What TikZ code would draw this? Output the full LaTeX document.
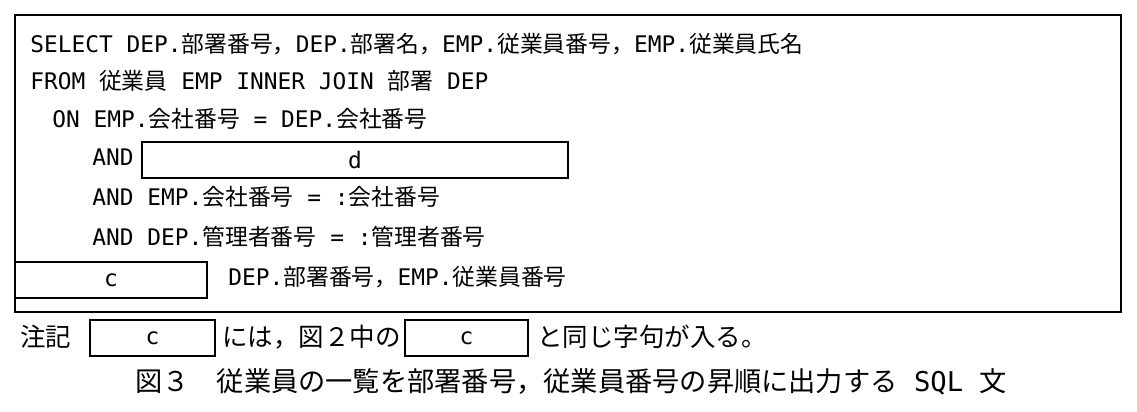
\documentclass[tikz,border=0pt]{standalone}
\usepackage{fontspec}
\setmainfont{DejaVu Sans Mono}
\newfontfamily\cjk{Noto Sans CJK JP}
\newcommand{\jp}[1]{{\cjk #1}}
\begin{document}
\begin{tikzpicture}[x=0.02cm,y=-0.02cm,
  code/.style={anchor=base west,inner sep=0pt,font=\fontsize{13}{15}\selectfont},
  note/.style={anchor=base west,inner sep=0pt,font=\fontsize{14.5}{16}\selectfont},
  blank/.style={draw,line width=1.3pt},
  lbl/.style={font=\fontsize{13}{15}\selectfont}]
\useasboundingbox (0,0) rectangle (1137,412);

\draw[line width=0.9pt] (15,15) rectangle (1121,312);

\node[code] (l1) at (30,53) {SELECT DEP.\jp{部署番号，}DEP.\jp{部署名，}EMP.\jp{従業員番号，}EMP.\jp{従業員氏名}};
\node[code] (l2) at (30,90) {FROM \jp{従業員} EMP INNER JOIN \jp{部署} DEP};
\node[code] (l3) at (52,128) {ON EMP.\jp{会社番号} = DEP.\jp{会社番号}};
\node[code] (l4) at (92,166) {AND};
\node[code] (l5) at (92,206) {AND EMP.\jp{会社番号} = :\jp{会社番号}};
\node[code] (l6) at (92,246) {AND DEP.\jp{管理者番号} = :\jp{管理者番号}};
\node[code] (l7) at (228,285) {DEP.\jp{部署番号，}EMP.\jp{従業員番号}};

% blanks
\draw[blank] (142,142) rectangle node[lbl] (d) {d} (568,178);
\draw[blank] (15,262) rectangle node[lbl] (c1) {c} (207,298);

% note line
\node[note] (n1) at (20,346) {\jp{注記}};
\draw[blank] (90,320) rectangle node[lbl] (c2) {c} (215,356);
\node[note] (n2) at (222,346) {\jp{には，図２中の}};
\draw[blank] (405,320) rectangle node[lbl] (c3) {c} (528,356);
\node[note] (n3) at (537,346) {\jp{と同じ字句が入る。}};

% caption
\node[anchor=base,font=\fontsize{15.5}{17}\selectfont] (cap) at (571,391) {\jp{図３　従業員の一覧を部署番号，従業員番号の昇順に出力する} SQL \jp{文}};
\end{tikzpicture}
\end{document}
